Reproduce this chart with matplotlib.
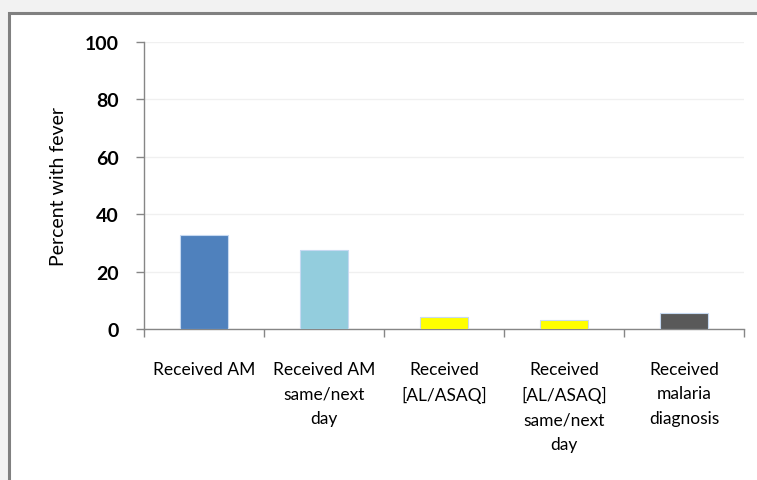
import numpy as np
import matplotlib.pyplot as plt
from matplotlib.patches import Rectangle

# datos del grafico
categorias = ['Received AM', 'Received AM\nsame/next\nday', 'Received\n[AL/ASAQ]',
              'Received\n[AL/ASAQ]\nsame/next\nday', 'Received\nmalaria\ndiagnosis']
valores = [32.6, 27.6, 4.2, 3.0, 5.5]
colores = ['#4f81bd', '#93cddd', '#ffff00', '#ffff00', '#595959']
yticks = [0, 20, 40, 60, 80, 100]

plt.rcParams['font.family'] = ['Lato', 'DejaVu Sans']

fig = plt.figure(figsize=(7.57, 4.81), dpi=100, facecolor='#f2f2f2')

# marco blanco del area del grafico
marco = Rectangle((9 / 757, -0.1), 1.2, (481 - 14) / 481 + 0.1, transform=fig.transFigure,
                  facecolor='white', edgecolor='#808080', linewidth=2.2, zorder=-5)
fig.patches.append(marco)

ax = fig.add_axes([144 / 757, (481 - 330) / 481, 600 / 757, 287 / 481])
ax.set_zorder(2)
ax.set_facecolor('none')

x = np.arange(len(categorias))
ax.bar(x, valores, width=0.4, color=colores, edgecolor='#c6d9f1', linewidth=0.8, zorder=3)

ax.set_xlim(-0.5, len(categorias) - 0.5)
ax.set_ylim(0, 100)
ax.set_yticks(yticks)
ax.set_yticklabels([str(v) for v in yticks], fontweight='bold', fontsize=14)
ax.set_xticks(x)
ax.set_xticklabels(categorias, fontsize=12.5, linespacing=1.64, va='top')
ax.set_xticks(np.arange(-0.5, len(categorias)), minor=True)
ax.tick_params(axis='x', which='major', length=0, pad=23)
ax.tick_params(axis='x', which='minor', length=6, color='#868686', width=1)
ax.tick_params(axis='y', length=6, color='#868686', width=1, pad=12)

ax.grid(axis='y', color='#f0f0f0', linewidth=1, zorder=0)
ax.set_axisbelow(True)
for lado in ['top', 'right']:
    ax.spines[lado].set_visible(False)
for lado in ['left', 'bottom']:
    ax.spines[lado].set_color('#868686')
    ax.spines[lado].set_linewidth(1)

ax.set_ylabel('Percent with fever', fontsize=14, labelpad=13)

fig.savefig('out.png', dpi=100, facecolor=fig.get_facecolor())
